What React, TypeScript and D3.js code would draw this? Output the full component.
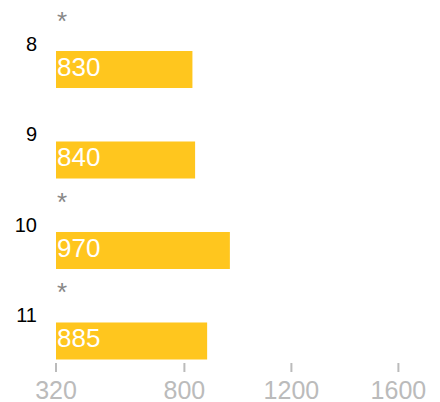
import React from "react";
import * as d3 from "d3";

const categories = ["8", "9", "10", "11"];
const values = [830, 840, 970, 885];
const marked = [true, false, true, true];
const xTicks = [320, 800, 1200, 1600];

const W = 440;
const H = 402;
const FONT = "'Liberation Sans', Arial, sans-serif";

export default function App() {
  const x = d3.scaleLinear().domain([320, 1720]).range([56, 430.5]);
  const y = d3
    .scaleBand<string>()
    .domain(categories)
    .range([51, 359.5])
    .paddingInner(0.591)
    .paddingOuter(0);

  return (
    <svg
      width={W}
      height={H}
      style={{ position: "absolute", left: 0, top: 0, background: "#fff" }}
      fontFamily={FONT}
    >
      {categories.map((c, i) => {
        const top = y(c)!;
        return (
          <g key={c}>
            <rect
              x={x(320)}
              y={top}
              width={x(values[i]) - x(320)}
              height={y.bandwidth()}
              fill="#FFC61E"
            />
            <text x={57} y={top + 25} fontSize={26} fill="#fff">
              {values[i]}
            </text>
            <text x={37} y={top} fontSize={20} fill="#000" textAnchor="end">
              {c}
            </text>
            {marked[i] && (
              <text x={57} y={top - 21} fontSize={26} fill="#888">
                *
              </text>
            )}
          </g>
        );
      })}
      {xTicks.map((t) => (
        <g key={t} transform={`translate(${x(t)},0)`}>
          <line y1={363} y2={372} stroke="#bbb" strokeWidth={2} />
          <text y={399} fontSize={25} fill="#bbb" textAnchor="middle">
            {t}
          </text>
        </g>
      ))}
    </svg>
  );
}
